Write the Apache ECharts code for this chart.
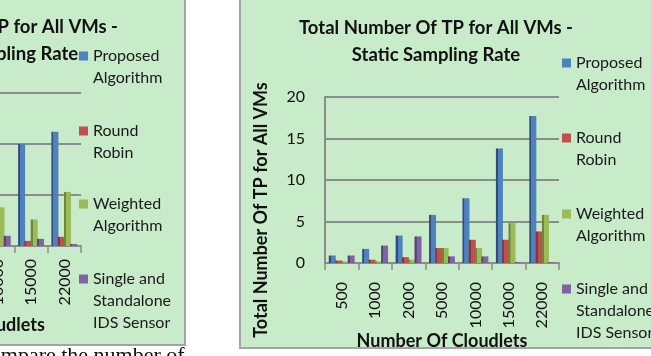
<!DOCTYPE html>
<html>
<head>
<meta charset="utf-8">
<script src="https://cdn.jsdelivr.net/npm/echarts@6/dist/echarts.min.js"></script>
<style>
html, body { margin: 0; padding: 0; background: #fff; }
#chart { width: 651px; height: 356px; }
</style>
</head>
<body>
<div id="chart"></div>
<script>
// categories (number of cloudlets)
const cloudlets = ["500", "1000", "2000", "5000", "10000", "15000", "22000"];
const seriesNames = ["Proposed\nAlgorithm", "Round\nRobin", "Weighted\nAlgorithm", "Single and\nStandalone\nIDS Sensor"];

// right chart - static sampling rate
const staticProposed = [0.9, 1.7, 3.3, 5.8, 7.8, 13.8, 17.7];
const staticRoundRobin = [0.3, 0.4, 0.7, 1.8, 2.8, 2.8, 3.8];
const staticWeighted = [0.2, 0.2, 0.4, 1.8, 1.8, 4.8, 5.8];
const staticSingle = [0.9, 2.1, 3.2, 0.8, 0.8, 0.1, 0.1];

// left chart - only its right end is inside the picture
const dynProposed = [null, null, null, null, null, 10.0, 11.2];
const dynRoundRobin = [null, null, null, null, null, 0.5, 0.9];
const dynWeighted = [null, null, null, null, 3.8, 2.6, 5.3];
const dynSingle = [null, null, null, null, 1.0, 0.7, 0.2];

const staticMax = 20;
const dynMax = 15;
const tickStep = 5;

const colors = ["#4f81bd", "#c0504d", "#9bbb59", "#8064a2"];
const darks = ["#2c4c7c", "#8a3532", "#6c8838", "#584274"];
const gridColor = "#8c8c8c";
const font = "Lato";

let chart = echarts.init(document.getElementById("chart"));

function face(i) {
  // darker left side to fake the 3D look of the bars
  return new echarts.graphic.LinearGradient(0, 0, 1, 0, [
    { offset: 0, color: darks[i] },
    { offset: 0.28, color: darks[i] },
    { offset: 0.29, color: colors[i] },
    { offset: 1, color: colors[i] },
  ]);
}

function xAxisFor(gridIndex, margin) {
  return {
    type: "category",
    gridIndex: gridIndex,
    data: cloudlets,
    name: "Number Of Cloudlets",
    nameLocation: "middle",
    nameGap: gridIndex == 0 ? 70 : 63,
    nameTextStyle: {
      fontFamily: font,
      fontWeight: "bold",
      fontSize: 18,
      color: "#111",
      padding: gridIndex == 0 ? [0, 10, 0, 0] : 0,
    },
    axisLine: { lineStyle: { color: gridColor, width: 2 } },
    axisTick: { show: true, length: 7, lineStyle: { color: gridColor, width: 1.5 } },
    axisLabel: {
      rotate: 90,
      margin: margin,
      fontFamily: font,
      fontSize: 16,
      color: "#111",
    },
  };
}

function yAxisFor(gridIndex, max) {
  return {
    type: "value",
    gridIndex: gridIndex,
    min: 0,
    max: max,
    interval: tickStep,
    name: "Total Number Of TP for All VMs",
    nameLocation: "middle",
    nameGap: 55,
    nameTextStyle: {
      fontFamily: font,
      fontWeight: "bold",
      fontSize: 18,
      color: "#111",
      padding: [0, 60, 0, 0],
    },
    axisLine: { show: true, lineStyle: { color: gridColor, width: 2 } },
    axisTick: { show: false },
    splitLine: { lineStyle: { color: gridColor, width: 2 } },
    axisLabel: { margin: 20, fontFamily: font, fontSize: 16, color: "#111" },
  };
}

function legendFor(k, left, top) {
  return {
    orient: "vertical",
    left: left,
    top: top,
    padding: 0,
    itemWidth: 9,
    itemHeight: 9,
    icon: "rect",
    selectedMode: false,
    data: [{ name: seriesNames[k], itemStyle: { color: colors[k] } }],
    // blank lines in front so the marker sits beside the first line
    formatter: (name) => "\n".repeat(name.split("\n").length - 1) + name,
    textStyle: {
      fontFamily: font,
      fontSize: 16,
      lineHeight: 22,
      color: "#1a1a1a",
    },
  };
}

function barsFor(gridIndex, lists) {
  return lists.map((vals, i) => ({
    name: seriesNames[i],
    type: "bar",
    xAxisIndex: gridIndex,
    yAxisIndex: gridIndex,
    barWidth: 7,
    barGap: "-10%",
    itemStyle: { color: face(i) },
    data: vals,
  }));
}

let legendTopsLeft = [23, 98, 171, 224];
let legendTopsRight = [30, 105, 181, 234];
let legends = [];
for (let k = 0; k < 4; k++) {
  legends.push(legendFor(k, 79, legendTopsLeft[k]));
  legends.push(legendFor(k, 562, legendTopsRight[k]));
}

let titleStyle = { fontFamily: font, fontWeight: "bold", fontSize: 18.5, lineHeight: 27, color: "#111" };

let option = {
  backgroundColor: "#fff",
  animation: false,
  title: [
    {
      text: "Total Number Of TP for All VMs -\nDynamic Sampling Rate",
      left: -19,
      top: 14,
      padding: 0,
      textAlign: "center",
      textStyle: titleStyle,
    },
    {
      text: "Total Number Of TP for All VMs -\nStatic Sampling Rate",
      left: 436,
      top: 15,
      padding: 0,
      textAlign: "center",
      textStyle: titleStyle,
    },
  ],
  legend: legends,
  grid: [
    { left: -152, top: 93, width: 233, height: 153, outerBoundsMode: "none", containLabel: false },
    { left: 325, top: 97, width: 234, height: 166, outerBoundsMode: "none", containLabel: false },
  ],
  xAxis: [xAxisFor(0, 13), xAxisFor(1, 19)],
  yAxis: [yAxisFor(0, dynMax), yAxisFor(1, staticMax)],
  series: barsFor(0, [dynProposed, dynRoundRobin, dynWeighted, dynSingle]).concat(
    barsFor(1, [staticProposed, staticRoundRobin, staticWeighted, staticSingle])
  ),
  graphic: [
    {
      type: "rect",
      z: -10,
      shape: { x: -10, y: -10, width: 195, height: 355 },
      style: { fill: "#c8ebca", stroke: "#a3a3a3", lineWidth: 2 },
    },
    {
      type: "rect",
      z: -10,
      shape: { x: 240, y: -10, width: 430, height: 358 },
      style: { fill: "#c8ebca", stroke: "#a3a3a3", lineWidth: 2 },
    },
    {
      type: "text",
      z: -5,
      x: -20,
      y: 345,
      style: {
        text: "compare the number of",
        font: "22px 'Liberation Serif'",
        fill: "#111",
        verticalAlign: "top",
      },
    },
  ],
};

chart.setOption(option);
</script>
</body>
</html>
